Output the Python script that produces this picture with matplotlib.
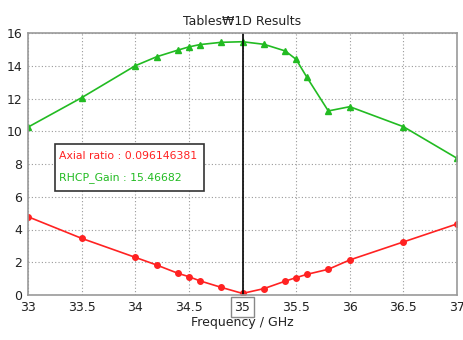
import matplotlib
matplotlib.use("Agg")
import matplotlib.pyplot as plt
from matplotlib.patches import Rectangle

freq = [33, 33.5, 34, 34.2, 34.4, 34.5, 34.6, 34.8, 35, 35.2, 35.4, 35.5, 35.6, 35.8, 36, 36.5, 37]
gain = [10.25, 12.05, 14.0, 14.55, 14.96, 15.15, 15.29, 15.43, 15.46682, 15.31, 14.9, 14.39, 13.3, 11.24, 11.5, 10.28, 8.35]
axial = [4.78, 3.46, 2.30, 1.83, 1.32, 1.12, 0.87, 0.47, 0.096146381, 0.39, 0.85, 1.06, 1.26, 1.57, 2.14, 3.24, 4.34]
xticks = [33, 33.5, 34, 34.5, 35, 35.5, 36, 36.5, 37]
xticklabels = ["33", "33.5", "34", "34.5", "35", "35.5", "36", "36.5", "37"]
yticks = [0, 2, 4, 6, 8, 10, 12, 14, 16]

plt.rcParams['font.family'] = ['DejaVu Sans']
fig = plt.figure(figsize=(4.63, 3.40), dpi=100)
ax = fig.add_axes([28/463, 45/340, 429/463, 262/340])

ax.plot(freq, gain, color='#22bb22', marker='^', markersize=5, linewidth=1.2)
ax.plot(freq, axial, color='#ff2222', marker='o', markersize=4, linewidth=1.2)
ax.axvline(35, color='black', linewidth=1.2)

ax.set_xlim(33, 37)
ax.set_ylim(0, 16)
ax.set_xticks(xticks)
ax.set_xticklabels(xticklabels)
ax.set_yticks(yticks)
ax.grid(True, linestyle=(0, (1, 2)), color='#999999', linewidth=0.8)
for s in ax.spines.values():
    s.set_color('#999999')
    s.set_linewidth(1.2)
ax.tick_params(length=0, labelsize=9, colors='#222222', pad=4)
for lbl in ax.get_xticklabels():
    if lbl.get_text() == "35":
        lbl.set_bbox(dict(facecolor='white', edgecolor='#888888', boxstyle='square,pad=0.25', linewidth=1))

ax.set_title("Tables\u20a91D Results", fontsize=9, color='#222222', pad=6)
ax.set_xlabel("Frequency / GHz", fontsize=9, color='#222222', labelpad=2)

# annotation box
bx0, by0, bx1, by1 = 55, 144, 204, 191
box = Rectangle((bx0/463, 1 - by1/340), (bx1 - bx0)/463, (by1 - by0)/340,
                transform=fig.transFigure, facecolor='white', edgecolor='#333333', linewidth=1.2, zorder=10)
fig.patches.append(box)
fig.text(59/463, 1 - 156/340, "Axial ratio : 0.096146381", color='#ff2222', fontsize=7.8, va='center', ha='left', zorder=11)
fig.text(59/463, 1 - 178/340, "RHCP_Gain : 15.46682", color='#22bb22', fontsize=7.8, va='center', ha='left', zorder=11)

fig.savefig("out.png", dpi=100, facecolor='white')
